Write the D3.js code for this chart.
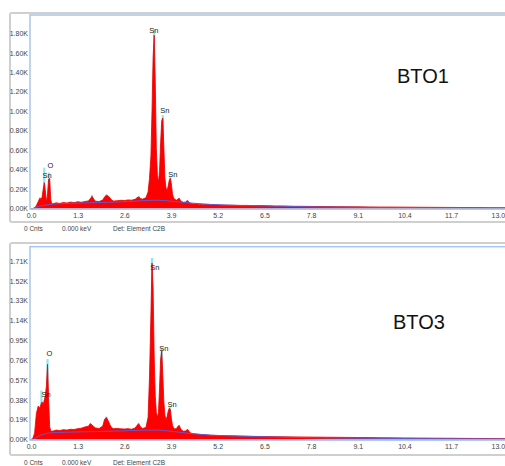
<!DOCTYPE html>
<html><head><meta charset="utf-8">
<script src="https://cdn.jsdelivr.net/npm/d3@7"></script>
<style>body{margin:0;background:#fff}svg{display:block}</style>
</head><body>
<svg id="c" width="505" height="466"></svg>
<script>
// Energy grid (keV)
const energyKeV = [
 0.00,0.05,0.10,0.15,0.20,0.25,0.28,0.31,0.34,0.37,
 0.40,0.43,0.46,0.49,0.52,0.55,0.58,0.62,0.70,0.80,
 0.90,1.00,1.10,1.20,1.30,1.40,1.50,1.60,1.65,1.70,
 1.75,1.80,1.90,2.00,2.05,2.10,2.15,2.20,2.25,2.30,
 2.40,2.50,2.60,2.70,2.80,2.90,2.95,3.00,3.05,3.10,
 3.20,3.26,3.30,3.34,3.37,3.40,3.43,3.46,3.49,3.52,
 3.55,3.58,3.61,3.64,3.67,3.70,3.73,3.76,3.79,3.82,
 3.85,3.88,3.91,3.94,3.97,4.00,4.05,4.10,4.13,4.16,
 4.20,4.25,4.30,4.34,4.37,4.40,4.45,4.50,4.60,4.70,
 4.80,4.90,5.00,5.20,5.40,5.60,5.80,6.00,6.20,6.40,
 6.60,6.80,7.00,7.30,7.60,7.90,8.20,8.50,8.80,9.10,
 9.40,9.70,10.00,10.40,10.80,11.20,11.60,12.00,12.40,12.80,
 13.20];
// BTO1 counts
const bto1Counts = [
 0,0,5,30,70,110,90,120,200,265,
 180,60,150,300,310,90,45,50,58,52,
 62,56,66,60,70,64,72,78,100,125,
 95,74,72,88,120,135,128,110,86,76,
 80,84,82,88,86,94,110,118,104,95,
 110,170,310,540,1000,1550,1780,1300,620,340,
 270,390,680,900,930,620,310,210,185,230,
 290,310,250,150,110,95,85,100,105,85,
 70,62,66,78,80,62,52,48,45,42,
 40,41,38,36,34,33,31,32,29,30,
 27,25,26,23,22,21,20,19,18,17,
 16,15,15,14,13,12,11,10,9,8,
 7];
// BTO3 counts
const bto3Counts = [
 0,10,60,250,320,300,340,360,330,380,
 420,520,720,400,120,85,78,82,90,86,
 94,90,98,96,104,108,120,128,150,140,
 122,110,106,130,195,210,180,140,112,104,
 106,102,100,104,98,110,135,150,122,105,
 115,210,600,1200,1690,1450,800,420,260,210,
 260,500,770,850,620,360,230,190,220,270,
 300,290,200,135,112,100,105,130,135,108,
 88,78,82,92,96,76,62,56,52,48,
 45,43,40,38,36,35,33,32,30,29,
 28,27,26,25,24,23,22,21,20,19,
 18,17,16,15,14,13,12,11,10,9,
 8];
// Background fit
const bgEnergy = [0.05,0.2,0.4,0.6,1.0,1.5,2.0,2.5,3.0,3.5,4.0,4.5,5.0,6.0,7.0,8.0,10.0,13.2];
const bto1Bg = [0,20,35,45,52,58,62,68,78,85,72,55,42,30,22,16,10,5];
const bto3Bg = [0,30,55,65,70,74,78,82,88,90,75,55,42,30,22,16,10,5];
// Peak marker tips (cyan)
const bto1MarkE = [0.37,0.50,1.70,2.10,3.00,3.43,3.67,3.88];
const bto1MarkTop = [420,370,140,145,130,1840,960,330];
const bto3MarkE = [0.29,0.46,1.65,2.10,3.00,3.37,3.64,3.87];
const bto3MarkTop = [470,770,160,220,160,1740,880,320];
// Element labels
const bto1LabText = ["Sn","Sn","Sn","O","Sn"];
const bto1LabE = [3.42,3.73,3.95,0.54,0.45];
const bto1LabC = [1801,980,320,416,313];
const bto3LabText = ["Sn","Sn","Sn","O","Sn"];
const bto3LabE = [3.45,3.70,3.93,0.515,0.42];
const bto3LabC = [1624,848,311,800,407];
// Axis ticks
const xTicks = [0.0,1.3,2.6,3.9,5.2,6.5,7.8,9.1,10.4,11.7,13.0];
const bto1YTicks = [0,200,400,600,800,1000,1200,1400,1600,1800];
const bto3YTicks = [0,190,380,570,760,950,1140,1330,1520,1710];
const sampleNames = ["BTO1","BTO3"];
const footerTexts = ["0 Cnts","0.000 keV","Det: Element C2B"];

const svg = d3.select("#c");
const font = "'Liberation Sans', Arial, sans-serif";

function panel(cfg){
  const g = svg.append("g");
  const x = d3.scaleLinear().domain([0,13.2]).range([31,505]);
  const y = d3.scaleLinear().domain([0,cfg.yMax]).range([cfg.y0,cfg.yTop]);
  // outer frame
  g.append("rect").attr("x",10).attr("y",cfg.frameTop).attr("width",510).attr("height",cfg.frameBot-cfg.frameTop)
    .attr("rx",2).attr("fill","none").attr("stroke","#cfcfcf").attr("stroke-width",2);
  // plot area border
  g.append("rect").attr("x",30).attr("y",cfg.yTop).attr("width",480).attr("height",cfg.y0-cfg.yTop+0.5)
    .attr("fill","#fff").attr("stroke","#a6c8e8").attr("stroke-width",1.5);
  // cyan marker tips
  g.selectAll("line.mk").data(cfg.markE).join("line")
    .attr("x1",d=>x(d)).attr("x2",d=>x(d)).attr("y1",y(0)).attr("y2",(d,i)=>y(cfg.markTop[i]))
    .attr("stroke","#8fe6f2").attr("stroke-width",2.2);
  // spectrum
  const pts = energyKeV.map((e,i)=>[e,cfg.counts[i]]);
  const area = d3.area().x(d=>x(d[0])).y0(y(0)).y1(d=>y(d[1]));
  g.append("path").datum(pts).attr("d",area).attr("fill","#ff0000");
  g.append("path").datum(pts).attr("d",d3.line().x(d=>x(d[0])).y(d=>y(d[1])))
    .attr("fill","none").attr("stroke","#e80000").attr("stroke-width",0.8);
  // background
  const bg = bgEnergy.map((e,i)=>[e,cfg.bg[i]]);
  g.append("path").datum(bg).attr("d",d3.line().curve(d3.curveMonotoneX).x(d=>x(d[0])).y(d=>y(d[1])))
    .attr("fill","none").attr("stroke","#6a55c8").attr("stroke-width",1);
  // baseline
  g.append("line").attr("x1",30).attr("x2",505).attr("y1",y(0)+0.5).attr("y2",y(0)+0.5)
    .attr("stroke","#a6c8e8").attr("stroke-width",1.5);
  // y ticks
  const yAx = d3.axisLeft(y).tickValues(cfg.yTicks).tickSize(0).tickPadding(1)
    .tickFormat(d=>(d/1000).toFixed(2)+"K");
  const ya = g.append("g").attr("transform","translate(29,0)").call(yAx);
  ya.select(".domain").remove();
  ya.selectAll("text").attr("font-family",font).attr("font-size",7).attr("fill","#444");
  // x ticks
  const xAx = d3.axisBottom(x).tickValues(xTicks).tickSize(0).tickPadding(0).tickFormat(d3.format(".1f"));
  const xa = g.append("g").attr("transform",`translate(0,${cfg.y0+5})`).call(xAx);
  xa.select(".domain").remove();
  xa.selectAll("text").attr("font-family",font).attr("font-size",7).attr("fill","#444");
  // element labels
  g.selectAll("text.lab").data(cfg.labText).join("text")
    .attr("x",(d,i)=>x(cfg.labE[i])).attr("y",(d,i)=>y(cfg.labC[i]))
    .attr("text-anchor","middle").attr("font-family",font).attr("font-size",7.5).attr("fill","#222").text(d=>d);
  // sample name
  g.append("text").attr("x",cfg.nameX).attr("y",cfg.nameY).attr("font-family",font).attr("font-size",20)
    .attr("fill","#111").text(cfg.name);
  // footer
  const fx = [24,62,113];
  g.selectAll("text.ft").data(footerTexts).join("text")
    .attr("x",(d,i)=>fx[i]).attr("y",cfg.footY).attr("font-family",font).attr("font-size",6.5).attr("fill","#444").text(d=>d);
}

panel({yMax:1988,y0:208.5,yTop:15,frameTop:13,frameBot:222,counts:bto1Counts,bg:bto1Bg,
  markE:bto1MarkE,markTop:bto1MarkTop,labText:bto1LabText,labE:bto1LabE,labC:bto1LabC,
  yTicks:bto1YTicks,name:sampleNames[0],nameX:397,nameY:83,footY:231});
panel({yMax:1847,y0:439.5,yTop:246.7,frameTop:243,frameBot:455,counts:bto3Counts,bg:bto3Bg,
  markE:bto3MarkE,markTop:bto3MarkTop,labText:bto3LabText,labE:bto3LabE,labC:bto3LabC,
  yTicks:bto3YTicks,name:sampleNames[1],nameX:393,nameY:329,footY:465});
</script>
</body></html>
